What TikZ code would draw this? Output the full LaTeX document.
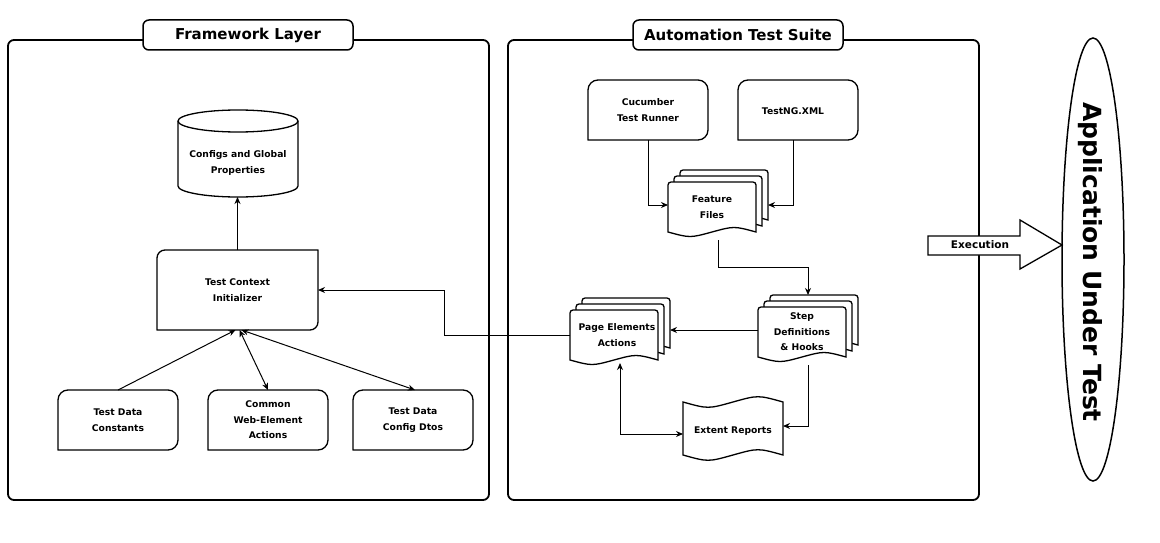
\documentclass[tikz,border=0pt]{standalone}
\usepackage{fontspec}
\setmainfont{DejaVu Sans}
\usetikzlibrary{arrows.meta,calc,shapes.geometric}

% box with individual corner radii: x y w h rTL rTR rBR rBL (y grows downward)
\newcommand\cornerbox[8]{%
  \filldraw[shp] (#1,#2+#5) arc[start angle=180,end angle=270,radius=#5]
    -- (#1+#3-#6,#2) arc[start angle=270,end angle=360,radius=#6]
    -- (#1+#3,#2+#4-#7) arc[start angle=0,end angle=90,radius=#7]
    -- (#1+#8,#2+#4) arc[start angle=90,end angle=180,radius=#8]
    -- cycle;}
% one document page: x y w h
\newcommand\docpage[4]{%
  \filldraw[shp] (#1,#2+#4) -- (#1,#2+3) arc[start angle=180,end angle=270,radius=3]
    -- (#1+#3-3,#2) arc[start angle=270,end angle=360,radius=3]
    -- (#1+#3,#2+#4) .. controls (#1+0.75*#3,#2+#4-6) .. (#1+0.5*#3,#2+#4)
    .. controls (#1+0.25*#3,#2+#4+6) .. (#1,#2+#4) -- cycle;}
% stack of three pages: x (front left) y (back top)
\newcommand\multidoc[2]{%
  \docpage{#1+12}{#2}{88}{50}
  \docpage{#1+6}{#2+6}{88}{50}
  \docpage{#1}{#2+12}{88}{50}}

\tikzset{
  shp/.style={draw=black, fill=white, line width=1.3pt},
  panel/.style={draw=black, line width=1.8pt, rounded corners=6pt},
  titlebox/.style={draw=black, fill=white, line width=1.5pt, rounded corners=6pt,
    minimum width=210pt, minimum height=30pt, inner sep=0pt,
    font=\bfseries\fontsize{15}{18}\selectfont},
  anch/.style={draw=none, inner sep=0pt, outer sep=0pt},
  lbl/.style={inner sep=0pt, align=center, font=\bfseries\fontsize{9.2}{15.5}\selectfont},
  conn/.style={line width=1pt, -{Stealth[length=7pt,width=6pt]}},
  biconn/.style={line width=1pt, {Stealth[length=7pt,width=6pt]}-{Stealth[length=7pt,width=6pt]}},
}

\begin{document}
\begin{tikzpicture}[x=1pt,y=-1pt]
\useasboundingbox (0,0) rectangle (1160,543);

% ---------- panels ----------
\draw[panel] (8,40) rectangle (489,500);
\draw[panel] (508,40) rectangle (979,500);
\node[titlebox] (fwtitle) at (248,35) {Framework Layer};
\node[titlebox] (attitle) at (738,35) {Automation Test Suite};

% ---------- framework layer ----------
\filldraw[shp] (178,121) -- (178,186) arc[start angle=180,end angle=0,x radius=60,y radius=11]
  -- (298,121) arc[start angle=0,end angle=-180,x radius=60,y radius=11] -- cycle;
\draw[shp, fill=none] (178,121) arc[start angle=180,end angle=0,x radius=60,y radius=11];
\node[anch, minimum width=120pt, minimum height=87pt] (cyl) at (238,153.5) {};
\node[lbl] (cylT) at (238,163) {Configs and Global\\Properties};

\cornerbox{157}{250}{161}{80}{8}{0.01}{8}{0.01}
\node[anch, lbl, minimum width=161pt, minimum height=80pt] (ctx) at (237.5,290) {Test Context\\Initializer};

\cornerbox{58}{390}{120}{60}{10}{10}{10}{0.01}
\node[anch, lbl, minimum width=120pt, minimum height=60pt] (tdc) at (118,420) {Test Data\\Constants};
\cornerbox{208}{390}{120}{60}{10}{10}{10}{0.01}
\node[anch, lbl, minimum width=120pt, minimum height=60pt] (cwe) at (268,420) {Common\\Web-Element\\Actions};
\cornerbox{353}{390}{120}{60}{10}{10}{10}{0.01}
\node[anch, lbl, minimum width=120pt, minimum height=60pt] (tdd) at (413,420) {Test Data\\Config Dtos};

% ---------- automation test suite ----------
\cornerbox{588}{80}{120}{60}{10}{10}{10}{0.01}
\node[anch, lbl, minimum width=120pt, minimum height=60pt] (cuc) at (648,110) {Cucumber\\Test Runner};
\cornerbox{738}{80}{120}{60}{10}{10}{10}{0.01}
\node[anch, minimum width=120pt, minimum height=60pt] (tng) at (798,110) {};
\node[lbl] (tngT) at (793,111) {TestNG.XML};

\multidoc{668}{170}
\node[anch, minimum width=100pt, minimum height=70pt] (feat) at (718,205) {};
\node[lbl] (featT) at (712,207) {Feature\\Files};

\multidoc{758}{295}
\node[anch, minimum width=100pt, minimum height=70pt] (step) at (808,330) {};
\node[lbl] (stepT) at (802,332) {Step\\Definitions\\\& Hooks};

\multidoc{570}{298}
\node[anch, minimum width=100pt, minimum height=65pt] (page) at (620,330.5) {};
\node[lbl] (pageT) at (617,335) {Page Elements\\Actions};

\filldraw[shp] (683,402) .. controls (708,409) .. (733,402) .. controls (758,395) .. (783,402)
  -- (783,455) .. controls (758,448) .. (733,455) .. controls (708,462) .. (683,455) -- cycle;
\node[anch, minimum width=100pt, minimum height=53pt] (ext) at (733,428.5) {};
\node[lbl] (extT) at (733,431) {Extent Reports};

% ---------- execution + AUT ----------
\filldraw[shp] (928,236) -- (1020,236) -- (1020,220) -- (1062,245) -- (1020,269) -- (1020,255) -- (928,255) -- cycle;
\node[lbl, font=\bfseries\fontsize{10.5}{12}\selectfont] (exec) at (980,245) {Execution};
\node[draw=black, line width=1.5pt, ellipse, minimum width=62pt, minimum height=443pt, inner sep=0pt] (aut) at (1093,259.5) {};
\node[inner sep=0pt, rotate=-90, font=\bfseries\fontsize{25}{30}\selectfont] (autT) at (1090,262) {Application Under Test};

% ---------- connectors ----------
\coordinate (bend) at (444,0);
\draw[conn] (ctx.north) -- (ctx.north |- cyl.south);
\draw[conn] (tdc.north) -- ($(ctx.south)+(-2,0)$);
\draw[biconn] ($(ctx.south)+(2,0)$) -- (cwe.north);
\draw[biconn] ($(ctx.south)+(4,0)$) -- ($(tdd.north)+(2,0)$);
\draw[conn] ($(page.west)+(0,4.5)$) -| (bend |- ctx.east) -- (ctx.east);
\draw[conn] (cuc.south) |- (feat.west);
\draw[conn] ($(tng.south)+(-5,0)$) |- (feat.east);
\draw[conn] (feat.south) -- ++(0,27) -| (step.north);
\draw[conn] (step.west) -- (step.west -| page.east);
\draw[conn] (step.south) |- ($(ext.east)+(0,-2.5)$);
\draw[biconn] (page.south) |- ($(ext.west)+(0,5.5)$);
\end{tikzpicture}
\end{document}
